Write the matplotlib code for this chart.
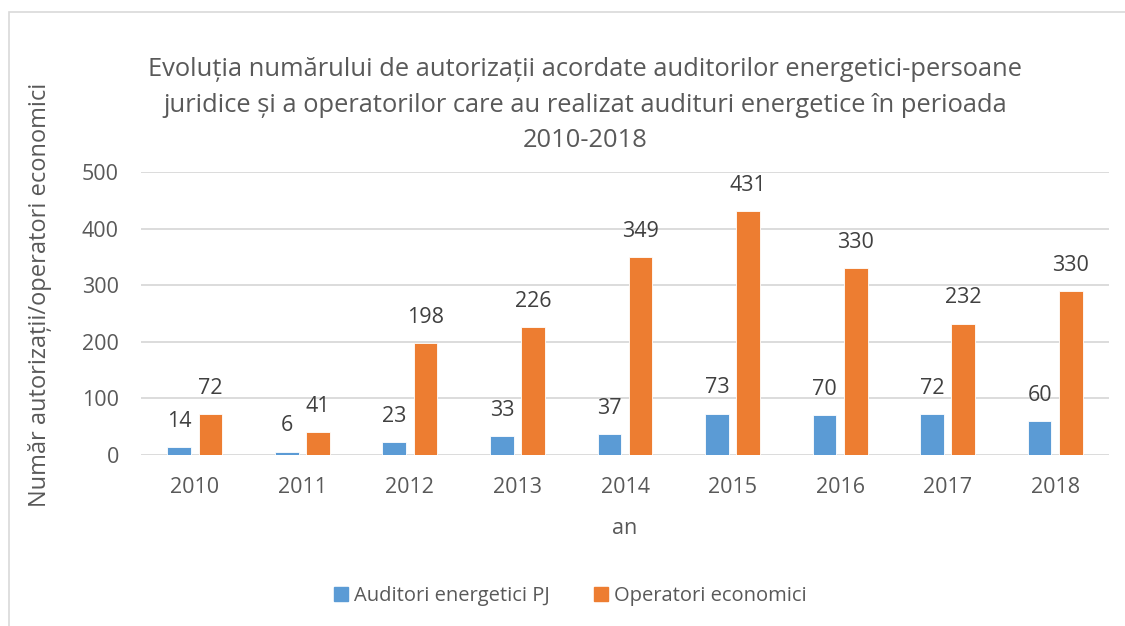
import matplotlib.pyplot as plt
import matplotlib.patches as mpatches
import numpy as np

plt.rcParams['font.family'] = ['Open Sans', 'DejaVu Sans']

years = ["2010", "2011", "2012", "2013", "2014", "2015", "2016", "2017", "2018"]
auditori = [14, 6, 23, 33, 37, 73, 70, 72, 60]
operatori = [72, 41, 198, 226, 349, 431, 330, 232, 290]
# labels as printed on the original chart (2018 label differs from bar height)
auditori_labels = ["14", "6", "23", "33", "37", "73", "70", "72", "60"]
operatori_labels = ["72", "41", "198", "226", "349", "431", "330", "232", "330"]

blue = '#5B9BD5'
orange = '#ED7D31'
text_c = '#595959'
grid_c = '#D9D9D9'

W, H = 1125, 626
fig = plt.figure(figsize=(W / 100, H / 100), dpi=100)
ax = fig.add_axes([141 / W, 1 - 455 / H, (1109 - 141) / W, (455 - 172) / H])

# chart border
fig.patches.append(mpatches.Rectangle((9 / W, -0.05), 1.2, 1 - 12 / H + 0.05,
                                      transform=fig.transFigure, fill=False,
                                      edgecolor=grid_c, linewidth=1.2))

x = np.arange(len(years))
bw = 0.22
off = 0.145
ax.bar(x - off, auditori, bw, color=blue, zorder=3, edgecolor='white', linewidth=0.6)
ax.bar(x + off, operatori, bw, color=orange, zorder=3, edgecolor='white', linewidth=0.6)

for i in range(len(years)):
    ax.annotate(auditori_labels[i], (x[i] - off, auditori[i]), xytext=(0, 11),
                textcoords='offset points', ha='center', va='bottom',
                fontsize=15.5, color='#404040')
    ax.annotate(operatori_labels[i], (x[i] + off, operatori[i]), xytext=(0, 11),
                textcoords='offset points', ha='center', va='bottom',
                fontsize=15.5, color='#404040')

ax.set_xlim(-0.5, len(years) - 0.5)
ax.set_ylim(0, 500)
ax.set_yticks(range(0, 501, 100))
ax.set_xticks(x)
ax.set_xticklabels(years)
ax.yaxis.grid(True, color=grid_c, linewidth=1.3, zorder=0)
ax.set_axisbelow(True)
for s in ax.spines.values():
    s.set_visible(False)
ax.tick_params(axis='both', length=0, labelsize=15.5, colors=text_c)
ax.tick_params(axis='y', pad=16)
ax.tick_params(axis='x', pad=16)

ax.set_xlabel("an", fontsize=15.5, color=text_c, labelpad=14)
fig.text(40 / W, 1 - 295 / H, "Număr autorizații/operatori economici", rotation=90,
         ha='center', va='center', fontsize=17, color=text_c)

fig.text(585 / W, 1 - 105 / H,
         "Evoluția numărului de autorizații acordate auditorilor energetici-persoane\n"
         "juridice și a operatorilor care au realizat audituri energetice în perioada\n"
         "2010-2018",
         ha='center', va='center', fontsize=18.4, color=text_c, linespacing=1.55)

handles = [mpatches.Patch(color=blue), mpatches.Patch(color=orange)]
fig.legend(handles, ["Auditori energetici PJ", "Operatori economici"],
           loc='center', bbox_to_anchor=(570 / W, 1 - 596 / H), ncol=2, frameon=False,
           fontsize=14.5, labelcolor=text_c, handlelength=0.7, handleheight=0.7,
           handletextpad=0.3, columnspacing=2.2)

fig.savefig("out.png", dpi=100, facecolor='white')
